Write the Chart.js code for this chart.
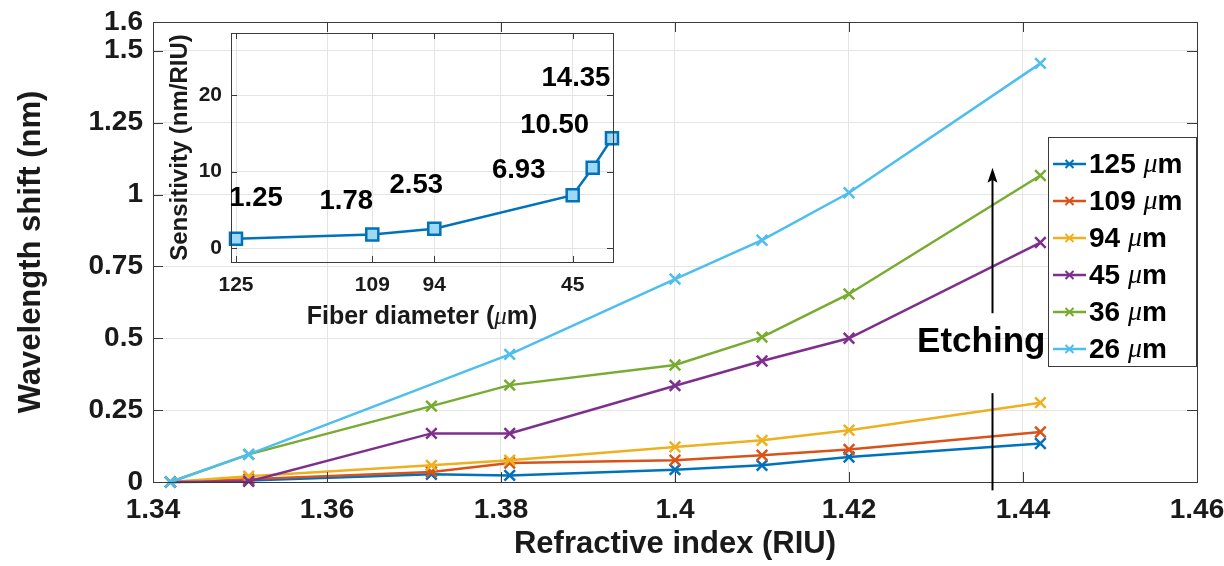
<!DOCTYPE html>
<html><head><meta charset="utf-8">
<script src="https://cdn.jsdelivr.net/npm/chart.js@4.4.1/dist/chart.umd.min.js"></script>
<style>
html,body{margin:0;padding:0;background:#fff;}
#wrap{position:relative;width:1224px;height:566px;overflow:hidden;}
#main{position:absolute;left:0;top:0;}
#inset{position:absolute;left:150px;top:10px;}
</style></head><body>
<div id="wrap"><canvas id="main" width="1224" height="566"></canvas><canvas id="inset" width="480" height="330"></canvas></div>
<script>
// ---------- data: main plot ----------
const refractiveIndex = [1.342, 1.351, 1.372, 1.381, 1.400, 1.410, 1.420, 1.442];
const seriesNames = ['125', '109', '94', '45', '36', '26'];
const shift125 = [0, 0.005, 0.027, 0.023, 0.043, 0.058, 0.087, 0.134];
const shift109 = [0, 0.010, 0.035, 0.066, 0.076, 0.093, 0.113, 0.174];
const shift94  = [0, 0.020, 0.058, 0.076, 0.122, 0.145, 0.180, 0.276];
const shift45  = [0, 0.002, 0.169, 0.169, 0.335, 0.421, 0.500, 0.833];
const shift36  = [0, 0.096, 0.264, 0.337, 0.407, 0.504, 0.654, 1.066];
const shift26  = [0, 0.096, null, 0.444, 0.706, 0.841, 1.006, 1.456];
const xTicks = [1.34, 1.36, 1.38, 1.40, 1.42, 1.44, 1.46];
const xTickLabels = ['1.34', '1.36', '1.38', '1.4', '1.42', '1.44', '1.46'];
const yTicks = [0, 0.25, 0.5, 0.75, 1, 1.25, 1.5, 1.6];
const yTickLabels = ['0', '0.25', '0.5', '0.75', '1', '1.25', '1.5', '1.6'];

// ---------- data: inset ----------
const insetPosition = [0, 36.25, 52.74, 89.55, 94.87, 100];
const sensitivity = [1.25, 1.78, 2.53, 6.93, 10.50, 14.35];
const sensitivityLabels = ['1.25', '1.78', '2.53', '6.93', '10.50', '14.35'];
const insetXTicks = [0, 36.25, 52.74, 89.55];
const insetXTickLabels = ['125', '109', '94', '45'];
const insetYTicks = [0, 10, 20];

const colors = ['#0072BD', '#D95319', '#EDB120', '#7E2F8E', '#77AC30', '#4DBEEE'];
const seriesValues = [shift125, shift109, shift94, shift45, shift36, shift26];

const BOLD = '"Liberation Sans", Arial, sans-serif';
const AX = '#3a3a3a';
const GRID = '#e4e4e4';
const TXT = '#1a1a1a';

function drawX(ctx, x, y, h) {
  ctx.beginPath();
  ctx.moveTo(x - h, y - h); ctx.lineTo(x + h, y + h);
  ctx.moveTo(x - h, y + h); ctx.lineTo(x + h, y - h);
  ctx.stroke();
}

function drawMu(ctx, x, y, parts, size) {
  let cx = x;
  parts.forEach(([t, it]) => {
    ctx.font = it ? ('italic ' + size + 'px "Liberation Serif", serif') : ('bold ' + size + 'px ' + BOLD);
    ctx.fillText(t, cx, y);
    cx += ctx.measureText(t).width;
  });
  return cx - x;
}
function measureMu(ctx, parts, size) {
  let w = 0;
  parts.forEach(([t, it]) => {
    ctx.font = it ? ('italic ' + size + 'px "Liberation Serif", serif') : ('bold ' + size + 'px ' + BOLD);
    w += ctx.measureText(t).width;
  });
  return w;
}

function frameAndTicks(chart, len, xt, yt) {
  const ctx = chart.ctx, a = chart.chartArea;
  const xs = chart.scales.x, ys = chart.scales.y;
  ctx.save();
  ctx.strokeStyle = AX; ctx.lineWidth = 1;
  ctx.strokeRect(Math.round(a.left) + 0.5, Math.round(a.top) + 0.5, Math.round(a.right - a.left), Math.round(a.bottom - a.top));
  ctx.beginPath();
  xt.forEach(v => {
    const px = Math.round(xs.getPixelForValue(v)) + 0.5;
    ctx.moveTo(px, a.bottom); ctx.lineTo(px, a.bottom - len);
    ctx.moveTo(px, a.top); ctx.lineTo(px, a.top + len);
  });
  yt.forEach(v => {
    const py = Math.round(ys.getPixelForValue(v)) + 0.5;
    ctx.moveTo(a.left, py); ctx.lineTo(a.left + len, py);
    ctx.moveTo(a.right, py); ctx.lineTo(a.right - len, py);
  });
  ctx.stroke();
  ctx.restore();
}

const mainPlugin = {
  id: 'mainDeco',
  beforeDraw(chart) {
    const ctx = chart.ctx;
    ctx.save(); ctx.fillStyle = '#fff'; ctx.fillRect(0, 0, chart.width, chart.height); ctx.restore();
  },
  afterDatasetsDraw(chart) {
    const ctx = chart.ctx;
    const xs = chart.scales.x, ys = chart.scales.y;
    frameAndTicks(chart, 10, xTicks, yTicks);
    ctx.save();
    // etching arrow
    const ax = Math.round(xs.getPixelForValue(1.4364)) + 0.5;
    ctx.strokeStyle = '#000'; ctx.fillStyle = '#000'; ctx.lineWidth = 2;
    const yTip = ys.getPixelForValue(1.093), yStart = ys.getPixelForValue(0.587);
    ctx.beginPath(); ctx.moveTo(ax, yStart); ctx.lineTo(ax, yTip + 12); ctx.stroke();
    ctx.beginPath(); ctx.moveTo(ax, yTip); ctx.lineTo(ax - 5, yTip + 15); ctx.lineTo(ax, yTip + 12); ctx.lineTo(ax + 5, yTip + 15); ctx.closePath(); ctx.fill();
    ctx.beginPath(); ctx.moveTo(ax, ys.getPixelForValue(0.309)); ctx.lineTo(ax, ys.getPixelForValue(-0.029)); ctx.stroke();
    // Etching label
    ctx.font = 'bold 35px ' + BOLD; ctx.textAlign = 'center'; ctx.textBaseline = 'middle';
    ctx.fillText('Etching', xs.getPixelForValue(1.4352), ys.getPixelForValue(0.4855));
    // legend
    const L = 1048, T = 137, R = 1196, B = 366;
    ctx.fillStyle = '#fff'; ctx.fillRect(L, T, R - L, B - T);
    ctx.strokeStyle = AX; ctx.lineWidth = 1; ctx.strokeRect(L + 0.5, T + 0.5, R - L, B - T);
    ctx.textAlign = 'left'; ctx.textBaseline = 'middle';
    seriesNames.forEach((n, i) => {
      const cy = 164 + i * 37;
      ctx.strokeStyle = colors[i]; ctx.lineWidth = 2.5;
      ctx.beginPath(); ctx.moveTo(1053, cy); ctx.lineTo(1086, cy); ctx.stroke();
      ctx.lineWidth = 2; drawX(ctx, 1069.5, cy, 4);
      ctx.fillStyle = '#000';
      drawMu(ctx, 1089, cy + 1, [[n + ' ', false], ['\u03bc', true], ['m', false]], 28);
    });
    ctx.restore();
  }
};

const datasets = seriesValues.map((vals, i) => ({
  label: seriesNames[i] + ' \u03bcm',
  data: refractiveIndex.map((x, j) => ({ x: x, y: vals[j] })),
  borderColor: colors[i],
  backgroundColor: colors[i],
  borderWidth: 2.5,
  pointStyle: 'crossRot',
  pointRadius: 7.5,
  pointBorderWidth: 2.5,
  pointBorderColor: colors[i],
  spanGaps: true,
  tension: 0,
  clip: false,
  order: seriesNames.length - i
}));

new Chart(document.getElementById('main'), {
  type: 'line',
  data: { datasets },
  plugins: [mainPlugin],
  options: {
    responsive: false, animation: false, devicePixelRatio: 1,
    layout: { padding: { left: 0, right: 27, top: 22, bottom: 0 } },
    plugins: { legend: { display: false }, tooltip: { enabled: false } },
    scales: {
      x: {
        type: 'linear', min: 1.34, max: 1.46,
        afterBuildTicks: s => { s.ticks = xTicks.map(v => ({ value: v })); },
        afterFit: s => { s.height = 84; s.paddingLeft = 0; s.paddingRight = 0; },
        ticks: { autoSkip: false, maxRotation: 0, padding: 11, color: TXT,
          font: { family: BOLD, size: 28, weight: 'bold' },
          callback: (v, i) => xTickLabels[i] },
        grid: { color: GRID, lineWidth: 1, drawTicks: false },
        border: { display: false },
        title: { display: true, text: 'Refractive index (RIU)', color: TXT,
          font: { family: BOLD, size: 31, weight: 'bold' }, padding: { top: 0, bottom: 3 } }
      },
      y: {
        type: 'linear', min: 0, max: 1.6,
        afterBuildTicks: s => { s.ticks = yTicks.map(v => ({ value: v })); },
        afterFit: s => { s.width = 153; s.paddingTop = 0; s.paddingBottom = 0; },
        ticks: { autoSkip: false, padding: 10, color: TXT,
          font: { family: BOLD, size: 28, weight: 'bold' },
          callback: (v, i) => yTickLabels[i] },
        grid: { color: GRID, lineWidth: 1, drawTicks: false },
        border: { display: false },
        title: { display: true, text: 'Wavelength shift (nm)', color: TXT,
          font: { family: BOLD, size: 31, weight: 'bold' }, padding: { top: 13, bottom: 0 } }
      }
    }
  }
});

// ---------- inset ----------
const labelOffsets = [[20, -40], [-26, -33], [-18, -43], [-54, -25], [-38, -42], [-36, -60]];
const insetPlugin = {
  id: 'insetDeco',
  afterDatasetsDraw(chart) {
    const ctx = chart.ctx, a = chart.chartArea;
    frameAndTicks(chart, 6, insetXTicks, insetYTicks);
    const meta = chart.getDatasetMeta(0);
    ctx.save();
    ctx.fillStyle = '#000'; ctx.textAlign = 'center'; ctx.textBaseline = 'middle';
    ctx.font = 'bold 27.5px ' + BOLD;
    meta.data.forEach((pt, i) => {
      ctx.fillText(sensitivityLabels[i], pt.x + labelOffsets[i][0], pt.y + labelOffsets[i][1]);
    });
    ctx.textAlign = 'left'; ctx.fillStyle = TXT;
    const parts = [['Fiber diameter (', false], ['\u03bc', true], ['m)', false]];
    const w = measureMu(ctx, parts, 25);
    drawMu(ctx, (a.left + a.right) / 2 - w / 2, 307, parts, 25);
    ctx.restore();
  }
};

new Chart(document.getElementById('inset'), {
  type: 'line',
  data: { datasets: [{
    data: insetPosition.map((x, j) => ({ x: x, y: sensitivity[j] })),
    borderColor: '#0072BD', borderWidth: 2.5,
    pointStyle: 'rect', pointRadius: 8.5, pointBorderWidth: 2.5,
    pointBorderColor: '#0072BD', pointBackgroundColor: '#9fd8f3', tension: 0,
    clip: false
  }] },
  plugins: [insetPlugin],
  options: {
    responsive: false, animation: false, devicePixelRatio: 1,
    layout: { padding: { left: 0, right: 17, top: 23, bottom: 0 } },
    plugins: { legend: { display: false }, tooltip: { enabled: false } },
    scales: {
      x: {
        type: 'linear', min: -1.33, max: 100.27,
        afterBuildTicks: s => { s.ticks = insetXTicks.map(v => ({ value: v })); },
        afterFit: s => { s.height = 78; s.paddingLeft = 0; s.paddingRight = 0; },
        ticks: { autoSkip: false, maxRotation: 0, padding: 11, color: TXT,
          font: { family: BOLD, size: 21, weight: 'bold' },
          callback: (v, i) => insetXTickLabels[i] },
        grid: { color: GRID, lineWidth: 1, drawTicks: false },
        border: { display: false }
      },
      y: {
        type: 'linear', min: -1.8, max: 28.1,
        afterBuildTicks: s => { s.ticks = insetYTicks.map(v => ({ value: v })); },
        afterFit: s => { s.width = 81; s.paddingTop = 0; s.paddingBottom = 0; },
        ticks: { autoSkip: false, padding: 9, color: TXT,
          font: { family: BOLD, size: 21, weight: 'bold' },
          callback: (v, i) => String(insetYTicks[i]) },
        grid: { color: GRID, lineWidth: 1, drawTicks: false },
        border: { display: false },
        title: { display: true, text: 'Sensitivity (nm/RIU)', color: TXT,
          font: { family: BOLD, size: 24, weight: 'bold' }, padding: { top: 16, bottom: 0 } }
      }
    }
  }
});
</script>
</body></html>
